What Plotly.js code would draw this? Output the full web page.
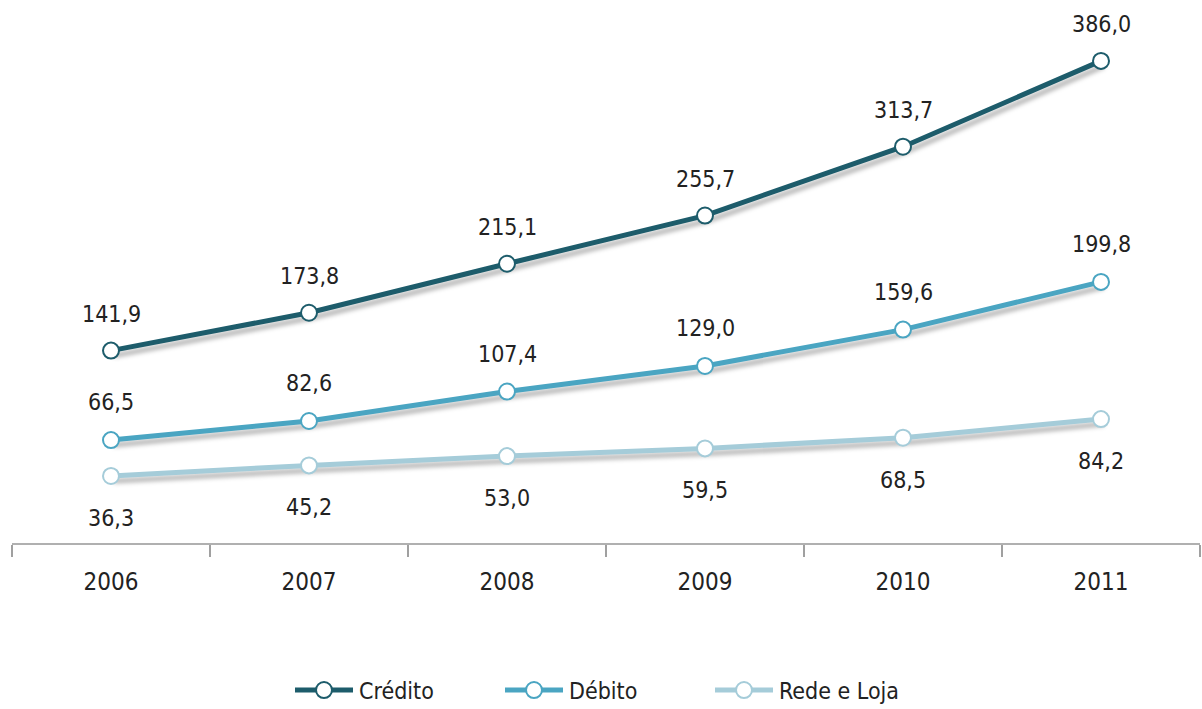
<!DOCTYPE html>
<html>
<head>
<meta charset="utf-8">
<script src="https://cdn.plot.ly/plotly-3.0.1.min.js"></script>
<style>
html,body{margin:0;padding:0;background:#fff;}
#chart{width:1202px;height:709px;}
.scatterlayer .trace path.js-line{filter:drop-shadow(3px 5px 2px rgba(0,0,0,0.28));}
</style>
</head>
<body>
<div id="chart"></div>
<script>
const years = ["2006","2007","2008","2009","2010","2011"];
const credito = [141.9, 173.8, 215.1, 255.7, 313.7, 386.0];
const debito = [66.5, 82.6, 107.4, 129.0, 159.6, 199.8];
const redeLoja = [36.3, 45.2, 53.0, 59.5, 68.5, 84.2];
const seriesNames = ["Crédito", "Débito", "Rede e Loja"];

const colors = ["#1d5c6b", "#4aa5c2", "#a5ccd9"];
const fmt = v => v.toFixed(1).replace(".", ",");
const font = "DejaVu Sans Condensed, DejaVu Sans, sans-serif";

const series = [credito, debito, redeLoja];
const traces = series.map((vals, i) => ({
  type: "scatter",
  mode: "lines+markers",
  name: seriesNames[i],
  x: years,
  y: vals,
  line: {color: colors[i], width: 5},
  marker: {size: 16, color: "#ffffff", line: {color: colors[i], width: 2}},
  hoverinfo: "x+y"
}));

const shifts = [37, 38, -42];
const annotations = [];
series.forEach((vals, i) => {
  vals.forEach((v, j) => {
    annotations.push({
      x: j, y: v, xref: "x", yref: "y",
      text: fmt(v), showarrow: false, yshift: shifts[i],
      font: {family: font, size: 23, color: "#222"}
    });
  });
});

const layout = {
  width: 1202, height: 709,
  margin: {l: 12, r: 2, t: 10, b: 166, autoexpand: false},
  paper_bgcolor: "#fff", plot_bgcolor: "#fff",
  showlegend: true,
  xaxis: {
    type: "category",
    tickson: "boundaries",
    ticks: "outside", ticklen: 12, tickwidth: 2, tickcolor: "#a0a0a0",
    showline: true, linecolor: "#b0b0b0", linewidth: 2,
    showgrid: false, zeroline: false,
    ticklabelstandoff: 16,
    tickfont: {family: font, size: 24, color: "#222"},
    range: [-0.5, 5.5]
  },
  yaxis: {
    range: [-20.2, 428.9],
    showgrid: false, zeroline: false, showticklabels: false, showline: false, ticks: ""
  },
  legend: {
    orientation: "h", x: 0.5, xanchor: "center", y: -0.276, yanchor: "middle",
    font: {family: font, size: 23, color: "#222"},
    entrywidth: 137, entrywidthmode: "pixels", itemwidth: 58
  },
  annotations: annotations
};

Plotly.newPlot("chart", traces, layout, {displayModeBar: false, staticPlot: true}).then(gd => {
  // widen legend symbols so the marker sits in the middle of a longer line
  gd.querySelectorAll(".legend .legendlines path").forEach(p => p.setAttribute("d", "M4,0h58"));
  gd.querySelectorAll(".legend .legendpoints path.scatterpts").forEach(p => p.setAttribute("transform", "translate(33,0)"));
});
</script>
</body>
</html>
